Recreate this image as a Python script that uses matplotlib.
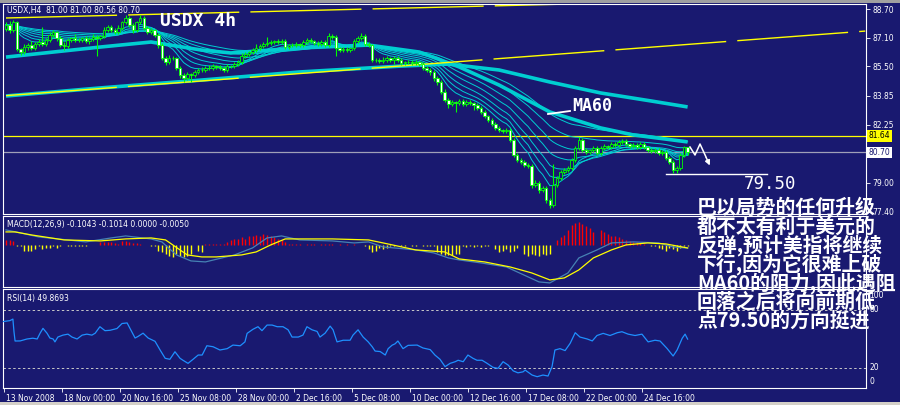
import numpy as np
import pandas as pd
import matplotlib
matplotlib.use("Agg")
import matplotlib.pyplot as plt
from matplotlib.lines import Line2D
from matplotlib.patches import Rectangle, FancyArrowPatch
from matplotlib.transforms import blended_transform_factory, ScaledTranslation

# ---------------- data (USDX, H4) ----------------
first_open = 87.60
close = [
    87.81, 87.53, 87.98, 86.45, 86.30, 86.58, 86.69, 86.53, 86.75, 86.86,
    86.75, 86.97, 87.25, 87.42, 87.08, 86.69, 86.64, 86.97, 87.08, 86.97,
    86.97, 87.08, 86.92, 87.03, 87.14, 87.08, 87.20, 87.53, 87.70, 87.53,
    87.42, 87.64, 87.98, 88.20, 87.81, 87.53, 87.98, 88.20, 87.64, 87.42,
    87.53, 87.25, 86.69, 85.97, 85.75, 85.97, 85.97, 85.41, 85.02, 84.85,
    85.08, 85.02, 85.19, 85.30, 85.30, 85.41, 85.41, 85.52, 85.47, 85.41,
    85.30, 85.52, 85.52, 85.63, 85.75, 86.08, 86.19, 86.30, 86.41, 86.53,
    86.64, 86.75, 86.80, 86.86, 86.92, 86.86, 86.92, 86.58, 86.69, 86.69,
    86.75, 86.69, 86.86, 86.97, 86.92, 86.80, 86.75, 86.86, 86.69, 87.20,
    87.14, 86.53, 86.41, 86.47, 86.41, 86.53, 86.92, 87.08, 87.20, 86.75,
    86.69, 85.86, 85.86, 85.80, 85.86, 85.97, 85.86, 85.97, 85.86, 85.69,
    85.75, 85.75, 85.69, 85.75, 85.63, 85.41, 85.30, 85.19, 84.85, 84.63,
    84.07, 83.63, 83.40, 83.52, 83.46, 83.57, 83.40, 83.52, 83.46, 83.35,
    83.18, 82.96, 82.74, 82.51, 82.29, 82.07, 81.96, 81.90, 81.96, 81.40,
    80.56, 80.28, 80.17, 80.00, 79.95, 78.89, 79.00, 78.61, 78.72, 78.05,
    77.77, 78.89, 79.28, 79.61, 79.73, 79.84, 80.28, 80.95, 81.40, 80.84,
    80.73, 80.84, 80.95, 80.67, 80.95, 81.06, 81.01, 81.17, 81.12, 81.29,
    81.34, 81.17, 81.06, 81.12, 81.01, 81.17, 81.01, 80.84, 80.78, 80.84,
    80.67, 80.73, 80.39, 80.17, 79.73, 79.84, 80.56, 81.00, 80.70,
]
upper_wick = [
    0.15, 0.20, 0.10, 0.05, 0.10, 0.15, 0.10, 0.20, 0.10, 0.15,
    0.84, 0.10, 0.15, 0.10, 0.05, 0.10, 0.15, 0.10, 0.05, 0.20,
    0.10, 0.05, 0.10, 0.10, 0.15, 0.10, 0.05, 0.15, 0.10, 0.10,
    0.10, 0.15, 0.05, 0.15, 0.11, 0.10, 0.05, 0.17, 0.10, 0.10,
    0.10, 0.05, 0.10, 0.10, 0.10, 0.15, 0.10, 0.05, 0.10, 0.10,
    0.10, 0.05, 0.10, 0.10, 0.15, 0.10, 0.15, 0.10, 0.05, 0.10,
    0.10, 0.10, 0.05, 0.10, 0.10, 0.15, 0.10, 0.05, 0.10, 0.20,
    0.10, 0.10, 0.35, 0.10, 0.05, 0.10, 0.10, 0.10, 0.05, 0.10,
    0.10, 0.05, 0.10, 0.10, 0.10, 0.05, 0.10, 0.10, 0.10, 0.15,
    0.10, 0.10, 0.05, 0.10, 0.10, 0.05, 0.10, 0.10, 0.15, 0.10,
    0.10, 0.05, 0.10, 0.10, 0.15, 0.10, 0.05, 0.10, 0.10, 0.10,
    0.05, 0.10, 0.10, 0.10, 0.05, 0.10, 0.10, 0.10, 0.10, 0.10,
    0.10, 0.15, 0.10, 0.10, 0.05, 0.10, 0.10, 0.10, 0.10, 0.05,
    0.10, 0.10, 0.10, 0.05, 0.10, 0.10, 0.10, 0.05, 0.10, 0.10,
    0.10, 0.10, 0.10, 0.10, 0.10, 0.10, 0.15, 0.10, 0.10, 0.10,
    0.10, 1.15, 0.10, 0.10, 0.10, 0.10, 0.10, 0.10, 0.15, 0.10,
    0.10, 0.05, 0.10, 0.10, 0.10, 0.10, 0.05, 0.10, 0.10, 0.10,
    0.10, 0.10, 0.05, 0.10, 0.10, 0.10, 0.10, 0.05, 0.10, 0.10,
    0.10, 0.10, 0.10, 0.10, 0.10, 0.10, 0.10, 0.05, 0.00,
]
lower_wick = [
    0.10, 0.15, 0.10, 0.10, 0.15, 0.10, 0.15, 0.10, 0.10, 0.10,
    0.10, 0.10, 0.10, 0.10, 0.15, 0.10, 0.20, 0.10, 0.10, 0.10,
    0.10, 0.10, 0.10, 0.15, 0.10, 1.00, 0.10, 0.10, 0.10, 0.10,
    0.10, 0.10, 0.10, 0.10, 0.10, 0.15, 0.10, 0.10, 0.10, 0.10,
    0.10, 0.10, 0.15, 0.10, 0.15, 0.10, 0.10, 0.10, 0.15, 0.20,
    0.10, 0.40, 0.10, 0.10, 0.10, 0.10, 0.10, 0.10, 0.10, 0.10,
    0.10, 0.10, 0.10, 0.10, 0.10, 0.10, 0.10, 0.10, 0.10, 0.10,
    0.10, 0.10, 0.10, 0.10, 0.10, 0.10, 0.10, 0.10, 0.10, 0.10,
    0.10, 0.10, 0.10, 0.10, 0.10, 0.10, 0.10, 0.10, 0.10, 0.10,
    0.10, 0.45, 0.10, 0.10, 0.10, 0.10, 0.10, 0.10, 0.10, 0.10,
    0.10, 0.10, 0.10, 0.10, 0.10, 0.10, 0.10, 0.25, 0.10, 0.10,
    0.10, 0.10, 0.10, 0.10, 0.10, 0.10, 0.10, 0.15, 0.15, 0.15,
    0.10, 0.10, 0.20, 0.10, 0.50, 0.10, 0.10, 0.10, 0.10, 0.28,
    0.10, 0.10, 0.10, 0.10, 0.10, 0.10, 0.10, 0.10, 0.10, 0.10,
    0.10, 0.10, 0.10, 0.10, 0.10, 0.15, 0.10, 0.15, 0.10, 0.15,
    0.17, 0.10, 0.10, 0.10, 0.10, 0.10, 0.10, 0.10, 0.10, 0.10,
    0.10, 0.10, 0.10, 0.10, 0.10, 0.10, 0.10, 0.10, 0.10, 0.10,
    0.10, 0.10, 0.10, 0.10, 0.10, 0.10, 0.10, 0.10, 0.10, 0.10,
    0.10, 0.10, 0.10, 0.10, 0.15, 0.18, 0.10, 0.10, 0.14,
]

ma_long_bar = [0, 26, 54, 81, 109, 122, 136, 150, 164, 178, 188]
ma_long_val = [83.85, 84.30, 84.74, 85.19, 85.52, 85.63, 85.30, 84.63, 84.02, 83.57, 83.24]
ma60_bar = [0, 26, 40, 54, 62, 81, 100, 114, 125, 136, 150, 164, 173, 188]
ma60_val = [86.02, 86.58, 86.86, 86.41, 86.25, 86.53, 86.69, 86.30, 85.47, 84.46, 82.96, 82.07, 81.68, 81.29]
ribbon_spans = [8, 12, 17, 24, 33, 45, 60]

trend_low_bar = [0, 237]
trend_low_val = [83.87, 87.47]
trend_high_bar = [0, 237]
trend_high_val = [88.20, 89.39]

resistance_level = 81.64
last_price = 80.70
target_level = 79.50
target_bar = [182, 210]

main_ticks = [88.70, 87.10, 85.50, 83.85, 82.25, 79.00, 77.40]

macd_bar = [0, 4, 9, 17, 22, 29, 33, 40, 43, 47, 51, 55, 63, 68, 72, 76, 81, 90, 96, 100,
            104, 113, 118, 122, 125, 131, 138, 144, 147, 150, 155, 158, 163, 167, 173, 180, 184, 188]
macd_val = [0.495, 0.396, 0.264, 0.165, 0.099, 0.231, 0.297, 0.198, 0.099, -0.330, -0.528, -0.561,
            -0.330, -0.099, 0.231, 0.297, 0.165, 0.132, 0.066, 0.099, -0.066, -0.165, -0.264, -0.429,
            -0.495, -0.594, -0.726, -1.056, -1.221, -1.254, -0.924, -0.429, -0.165, 0.066, 0.099,
            0.066, -0.066, -0.104]
signal_bar = [0, 2.5, 7, 16, 26, 33, 40, 44, 48, 50, 54, 58, 65, 69, 73, 77, 90, 100, 104, 113,
              121, 125, 132, 139, 145, 150, 154, 158, 162, 167, 171, 177, 182, 188]
signal_val = [0.429, 0.429, 0.330, 0.165, 0.132, 0.198, 0.231, 0.165, -0.165, -0.330, -0.396,
              -0.396, -0.330, -0.231, 0.0, 0.198, 0.198, 0.165, 0.066, -0.165, -0.231, -0.462,
              -0.561, -0.726, -0.924, -1.155, -1.089, -0.825, -0.429, -0.165, 0.0, 0.066, 0.033, -0.101]
histogram = [
    0.15, 0.15, 0.12, -0.03, -0.05, -0.2, -0.2, -0.2, -0.15, -0.03,
    -0.15, -0.1, -0.1, -0.03, -0.1, -0.03, 0, -0.03, -0.03, -0.03,
    -0.03, -0.03, -0.03, 0, 0, 0, 0.1, 0.08, 0.1, 0.1,
    0.05, 0.03, 0.13, 0.13, 0.1, 0.05, 0.05, 0.03, 0, 0,
    -0.03, -0.03, -0.2, -0.25, -0.3, -0.35, -0.4, -0.3, -0.35, -0.4,
    -0.35, -0.3, 0, -0.2, -0.25, 0.03, 0.03, 0.03, 0.03, 0.03,
    0.03, 0.1, 0.15, 0.2, 0.2, 0.25, 0.2, 0.3, 0.28, 0.33,
    0.3, 0.35, 0.33, 0.3, 0.25, 0.2, 0.15, 0.1, 0.03, 0.03,
    0.03, 0.03, 0, 0.03, 0.03, 0.03, 0, 0.03, 0.03, 0.03,
    0.03, 0, 0.02, 0, 0.02, 0, 0.02, 0, 0, -0.03,
    -0.15, -0.25, -0.2, -0.1, -0.15, -0.1, -0.05, -0.05, 0, -0.05,
    -0.05, 0, -0.05, -0.05, 0, -0.05, -0.05, -0.05, -0.05, -0.25,
    -0.3, -0.33, -0.33, -0.33, -0.3, -0.3, -0.05, -0.08, -0.05, -0.08,
    -0.03, -0.08, -0.05, -0.03, 0, -0.15, -0.25, -0.2, -0.15, -0.25,
    -0.2, -0.1, 0, -0.3, -0.35, -0.3, -0.33, -0.35, -0.3, -0.33,
    -0.3, 0, 0.17, 0.26, 0.33, 0.5, 0.67, 0.74, 0.77, 0.7,
    0.63, 0.55, 0.44, 0, 0.5, 0.44, 0.35, 0.3, 0.3, 0.27,
    0.2, 0.15, 0.12, 0.1, 0.1, 0.05, 0.03, 0, -0.03, -0.05,
    -0.1, -0.15, -0.2, -0.1, -0.15, -0.2, -0.1, -0.05, -0.03,
]

rsi_bar = [-0.8, 1.1, 1.9, 2.2, 2.5, 3.9, 5.8, 7.4, 8.6, 9.4, 10.2, 11.3, 12.1, 13.0, 13.5, 14.3,
           15.7, 17.1, 18.2, 19.6, 21.0, 22.3, 23.7, 24.6, 25.9, 27.3, 28.7, 30.6, 32.0, 33.4, 34.2,
           35.6, 36.4, 37.8, 39.2, 41.1, 42.5, 43.9, 45.2, 46.6, 48.0, 48.8, 50.2, 51.6, 53.0, 54.1,
           55.4, 57.1, 59.0, 61.0, 62.6, 64.6, 65.9, 66.5, 68.1, 69.5, 70.6, 72.0, 73.4, 74.8, 76.4,
           77.8, 78.9, 80.6, 81.9, 83.0, 84.4, 85.8, 86.6, 88.0, 89.4, 90.2, 91.3, 93.0, 94.9, 95.7,
           97.1, 98.5, 99.9, 101.0, 101.8, 103.2, 104.6, 105.4, 106.5, 107.3, 108.1, 109.5, 110.9,
           113.4, 115.0, 117.0, 118.3, 119.7, 121.1, 122.5, 123.9, 124.7, 126.1, 127.4, 128.8, 129.9,
           131.3, 132.7, 134.3, 135.7, 137.1, 138.5, 139.9, 141.2, 142.6, 143.2, 145.1, 146.5, 148.1,
           149.5, 150.6, 151.4, 152.8, 154.2, 155.6, 157.0, 158.3, 160.3, 161.7, 163.0, 164.7, 166.6,
           168.6, 169.9, 171.6, 173.5, 175.4, 177.1, 179.0, 180.4, 182.3, 184.0, 185.1, 186.5, 187.3,
           188.0]
rsi_val = [68, 69, 70.6, 57.5, 47.9, 48, 50, 50.8, 50, 56, 61, 56, 51, 50, 47, 52,
           54, 55, 52, 50, 54, 55, 54, 56, 62.7, 58.6, 59, 60.8, 66, 66.6, 61,
           51, 52.6, 56, 51, 47.6, 38.6, 30, 29, 36.8, 30, 28, 24.8, 29, 33.4, 33.4,
           43, 42, 38.6, 40, 43.7, 43, 47, 55.8, 60, 62.7, 58.6, 64.4, 64.4, 62.7, 62.7,
           59.5, 52, 52, 54, 62.7, 59.5, 57.8, 52, 56, 63.3, 59.5, 47, 48.7, 48.7, 54,
           59.5, 52, 47, 42, 37.5, 37, 33.4, 40, 43.6, 45, 47.9, 40, 43.4,
           43.7, 40.7, 39, 33.4, 29, 21.4, 24.8, 26.5, 28, 26.5, 33.4, 30, 28,
           28, 24.8, 20.7, 19.6, 26.5, 23, 17, 15, 16, 17.8, 12.7, 11, 12.7,
           11.7, 21.4, 38.6, 40, 38, 45.5, 56.5, 52, 50, 48, 53.6, 55.8, 53.6,
           56.5, 57.5, 55, 53.6, 55, 47, 48.7, 47.9, 40.3, 32.4, 38.6, 50.7, 55,
           49.87]
rsi_levels = [80, 20]
rsi_labels = {"100": 295, "80": 310, "20": 368, "0": 382}

xtick_bar = [-0.6 + 16 * k for k in range(12)]
xtick_labels = ["13 Nov 2008", "18 Nov 00:00", "20 Nov 16:00", "25 Nov 08:00", "28 Nov 00:00",
                "2 Dec 16:00", "5 Dec 08:00", "10 Dec 00:00", "12 Dec 16:00", "17 Dec 08:00",
                "22 Dec 00:00", "24 Dec 16:00"]

comment_lines = ["巴以局势的任何升级", "都不太有利于美元的", "反弹,预计美指将继续",
                 "下行,因为它很难上破", "MA60的阻力,因此遇阻", "回落之后将向前期低",
                 "点79.50的方向挺进"]

assert len(close) == len(upper_wick) == len(lower_wick) == len(histogram) == 189
assert len(rsi_bar) == len(rsi_val)
assert len(macd_bar) == len(macd_val) and len(signal_bar) == len(signal_val)

# ---------------- style ----------------
BG = "#191970"
CYAN = "#00CED1"
LIME = "#00FF00"
W, H = 900, 405

def fpt(x, y):
    return (x / W, 1 - y / H)

fig = plt.figure(figsize=(9, 4.05), dpi=100, facecolor=BG)

def make_ax(top, bottom, left=3, right=866):
    a = fig.add_axes([left / W, 1 - bottom / H, (right - left) / W, (bottom - top) / H])
    a.set_facecolor(BG)
    for s in a.spines.values():
        s.set_color("white")
        s.set_linewidth(0.8)
    a.set_xlim(-0.83, 237.2)
    a.tick_params(axis="x", bottom=False, labelbottom=False)
    a.tick_params(axis="y", left=False, labelleft=False)
    return a

ax = make_ax(4, 214)
axm = make_ax(216, 287)
axr = make_ax(289, 388)

# ---------------- main panel ----------------
ax.set_ylim(77.27, 88.98)
n = len(close)
bars = np.arange(n)
opens = [first_open] + close[:-1]
ema_src = pd.Series(close)
for s in ribbon_spans:
    ax.plot(bars, ema_src.ewm(span=s, adjust=False).mean(), color=CYAN, lw=0.7, zorder=2)
ax.plot(ma60_bar, ma60_val, color=CYAN, lw=2.6, zorder=2, solid_capstyle="butt")
ax.plot(ma_long_bar, ma_long_val, color=CYAN, lw=2.6, zorder=2, solid_capstyle="butt")

ax.plot(trend_low_bar, trend_low_val, color="#FFFF00", lw=1.0, dashes=(80, 8), zorder=2)
ax.plot(trend_high_bar, trend_high_val, color="#FFFF00", lw=1.0, dashes=(80, 8), zorder=2)
ax.axhline(resistance_level, color="#FFFF00", lw=0.9, zorder=1)
ax.axhline(last_price, color="#A0A0B8", lw=0.9, zorder=1)
ax.plot(target_bar, [target_level, target_level], color="white", lw=1.0, zorder=3)

for i in range(n):
    o, c = opens[i], close[i]
    hi = max(o, c) + upper_wick[i]
    lo = min(o, c) - lower_wick[i]
    ax.vlines(i, lo, hi, color=LIME, lw=0.8, zorder=4)
    fill = "white" if c < o else BG
    ax.bar(i, max(abs(c - o), 0.02), bottom=min(o, c), width=0.7, color=fill,
           edgecolor=LIME, linewidth=0.6, zorder=5)

ax.yaxis.tick_right()
ax.set_yticks(main_ticks)
ax.set_yticklabels([f"{v:.2f}" for v in main_ticks])
ax.tick_params(axis="y", right=True, labelright=True, colors="white", labelsize=5.5,
               length=3, width=0.6, pad=1.5)

trans = blended_transform_factory(ax.transAxes, ax.transData)
ax.text(1.003, resistance_level, f"{resistance_level:.2f}", transform=trans, fontsize=5.5,
        color="black", va="center", ha="left",
        bbox=dict(facecolor="#FFFF00", edgecolor="none", pad=1.0), zorder=10, clip_on=False)
ax.text(1.003, last_price, f"{last_price:.2f}", transform=trans, fontsize=5.5,
        color=BG, va="center", ha="left",
        bbox=dict(facecolor="white", edgecolor="none", pad=1.0), zorder=10, clip_on=False)

fig.text(*fpt(7, 10), "USDX,H4  81.00 81.00 80.56 80.70", color="white", fontsize=5.5,
         va="center", ha="left")
fig.text(*fpt(160, 21), "USDX 4h", color="white", fontsize=13, fontweight="bold",
         family="DejaVu Sans Mono", va="center", ha="left")
fig.text(*fpt(572, 106), "MA60", color="white", fontsize=12, fontweight="bold",
         family="DejaVu Sans Mono", va="center", ha="left")
fig.add_artist(Line2D([548 / W, 570 / W], [1 - 114 / H, 1 - 111 / H], color="white", lw=1.3))
fig.text(*fpt(744, 184), "79.50", color="white", fontsize=12.5,
         family="DejaVu Sans Mono", va="center", ha="left")

zig = [(690, 147), (695, 155), (700, 144), (706, 157)]
fig.add_artist(Line2D([p[0] / W for p in zig], [1 - p[1] / H for p in zig], color="white", lw=1.1))
fig.add_artist(FancyArrowPatch(fpt(705, 155), fpt(711, 168),
               transform=fig.transFigure, arrowstyle="-|>", mutation_scale=7,
               color="white", lw=1.1))

# ---------------- MACD panel ----------------
axm.set_ylim(-1.3887, 0.9546)
hcol = ["#FF0000" if h > 0 else "#FFFF00" for h in histogram]
axm.vlines(bars, 0, histogram, colors=hcol, lw=1.0, zorder=2)
axm.plot(macd_bar, macd_val, color="#4682B4", lw=0.9, zorder=3)
axm.plot(signal_bar, signal_val, color="#FFFF00", lw=0.9, zorder=4)
fig.text(*fpt(7, 225), "MACD(12,26,9) -0.1043 -0.1014 0.0000 -0.0050", color="white",
         fontsize=5.5, va="center", ha="left")

# ---------------- RSI panel ----------------
axr.set_ylim(-0.7, 101.7)
for lv in rsi_levels:
    axr.axhline(lv, color="#C8C8C8", lw=0.7, dashes=(2.5, 2.5), zorder=1)
axr.plot(rsi_bar, rsi_val, color="#1E90FF", lw=0.9, zorder=3)
for lab, ypx in rsi_labels.items():
    fig.text(*fpt(869, ypx), lab, color="white", fontsize=5.5, va="center", ha="left")
fig.text(*fpt(7, 298), "RSI(14) 49.8693", color="white", fontsize=5.5, va="center", ha="left")

axr.set_xticks(xtick_bar)
axr.set_xticklabels(xtick_labels, ha="left")
axr.tick_params(axis="x", bottom=True, labelbottom=True, colors="white", labelsize=5.5,
                length=3, width=0.6, pad=1.5)
for lbl in axr.get_xticklabels():
    lbl.set_transform(lbl.get_transform() + ScaledTranslation(2 / 100, 0, fig.dpi_scale_trans))

# ---------------- comment text ----------------
for k, line in enumerate(comment_lines):
    fig.text(*fpt(697, 207.5 + 18.8 * k), line, color="white", fontsize=14.3, fontweight="bold",
             family=["Noto Sans CJK SC", "DejaVu Sans"], va="center", ha="left", zorder=20)

# frame strips
fig.patches.append(Rectangle((0, 1 - 3 / H), 1, 3 / H, transform=fig.transFigure,
                             facecolor="#A0A0A0", edgecolor="none"))
fig.patches.append(Rectangle((0, 0), 1, 3 / H, transform=fig.transFigure,
                             facecolor="#D4D0C8", edgecolor="none"))

fig.savefig("out.png", dpi=100, facecolor=BG)
